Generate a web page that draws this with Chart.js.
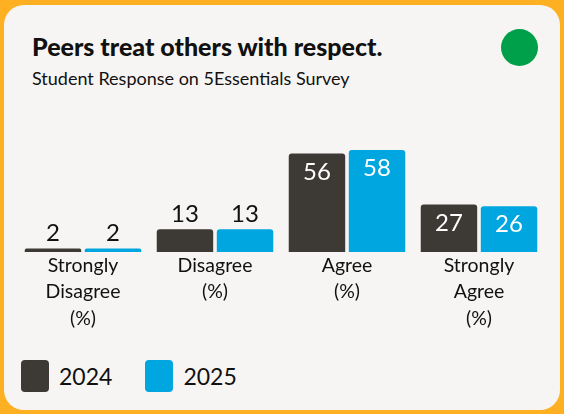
<!DOCTYPE html>
<html lang="en">
<head>
  <meta charset="UTF-8">
  <title>Peers treat others with respect.</title>
  <script src="https://cdn.jsdelivr.net/npm/chart.js"></script>
  <style>
    body {
      margin: 0;
      width: 564px;
      height: 414px;
      background: #FDB022;
      font-family: Lato, sans-serif;
      position: relative;
      overflow: hidden;
    }
    .card {
      position: absolute;
      left: 4px;
      top: 5px;
      width: 556px;
      height: 405px;
      border-radius: 20px;
      background: #F7F5F3;
    }
    h1 {
      position: absolute;
      left: 32px;
      top: 32px;
      margin: 0;
      font-size: 25px;
      font-weight: 900;
      color: #111;
      line-height: 28px;
    }
    .sub {
      position: absolute;
      left: 32px;
      top: 67px;
      font-size: 18px;
      color: #111;
      line-height: 22px;
    }
    .dot {
      position: absolute;
      left: 501px;
      top: 29px;
      width: 37px;
      height: 37px;
      border-radius: 50%;
      background: #00A04B;
    }
    .chart-box {
      position: absolute;
      left: 4px;
      top: 95px;
      width: 556px;
      height: 250px;
    }
    .legend {
      position: absolute;
      left: 21px;
      top: 360px;
      display: flex;
    }
    .legend .item {
      display: flex;
      align-items: center;
      margin-right: 33px;
    }
    .legend .box {
      width: 28px;
      height: 32px;
      border-radius: 4px;
      margin-right: 10px;
    }
    .legend span {
      font-size: 23px;
      color: #111;
    }
  </style>
</head>
<body>
  <div class="card"></div>
  <h1>Peers treat others with respect.</h1>
  <div class="sub">Student Response on 5Essentials Survey</div>
  <div class="dot"></div>

  <div class="chart-box">
    <canvas id="myChart"></canvas>
  </div>
  <div class="legend" id="legend"></div>

  <script>
    const categories = [
      ['Strongly', 'Disagree', '(%)'],
      ['Disagree', '(%)'],
      ['Agree', '(%)'],
      ['Strongly', 'Agree', '(%)']
    ];
    const years = ['2024', '2025'];
    const values2024 = [2, 13, 56, 27];
    const values2025 = [2, 13, 58, 26];
    const colors = ['#3D3935', '#00A6E0'];

    // value labels: white inside tall bars, dark above short ones
    const valueLabels = {
      id: 'valueLabels',
      afterDatasetsDraw(chart) {
        const ctx = chart.ctx;
        ctx.save();
        ctx.font = '24px Lato';
        ctx.textAlign = 'center';
        ctx.textBaseline = 'alphabetic';
        chart.data.datasets.forEach((ds, i) => {
          chart.getDatasetMeta(i).data.forEach((bar, j) => {
            const v = ds.data[j];
            if (v >= 20) {
              ctx.fillStyle = '#ffffff';
              ctx.fillText(v, bar.x, bar.y + 26);
            } else {
              ctx.fillStyle = '#111111';
              ctx.fillText(v, bar.x, bar.y - 7);
            }
          });
        });
        ctx.restore();
      }
    };

    const ctx = document.getElementById('myChart').getContext('2d');
    const myChart = new Chart(ctx, {
      type: 'bar',
      data: {
        labels: categories,
        datasets: [{
          label: years[0],
          data: values2024,
          backgroundColor: colors[0],
          borderRadius: 3,
          borderSkipped: 'bottom'
        },
        {
          label: years[1],
          data: values2025,
          backgroundColor: colors[1],
          borderRadius: 3,
          borderSkipped: 'bottom'
        }]
      },
      options: {
        responsive: true,
        maintainAspectRatio: false,
        animation: false,
        categoryPercentage: 0.91,
        barPercentage: 0.94,
        layout: {
          padding: { top: 55, left: 13, right: 15, bottom: 0 }
        },
        plugins: {
          legend: { display: false },
          tooltip: { enabled: false }
        },
        scales: {
          x: {
            grid: { display: false },
            border: { display: false },
            ticks: {
              color: '#111',
              padding: -8,
              maxRotation: 0,
              autoSkip: false,
              font: { family: 'Lato', size: 19.5, lineHeight: 1.36 }
            },
            afterFit(scale) {
              scale.height = 93;
            }
          },
          y: {
            display: false,
            min: 0,
            max: 58
          }
        }
      },
      plugins: [valueLabels]
    });

    const legend = document.getElementById('legend');
    myChart.data.datasets.forEach(ds => {
      const item = document.createElement('div');
      item.className = 'item';
      item.innerHTML = `<div class="box" style="background:${ds.backgroundColor}"></div><span>${ds.label}</span>`;
      legend.appendChild(item);
    });
  </script>
</body>
</html>
